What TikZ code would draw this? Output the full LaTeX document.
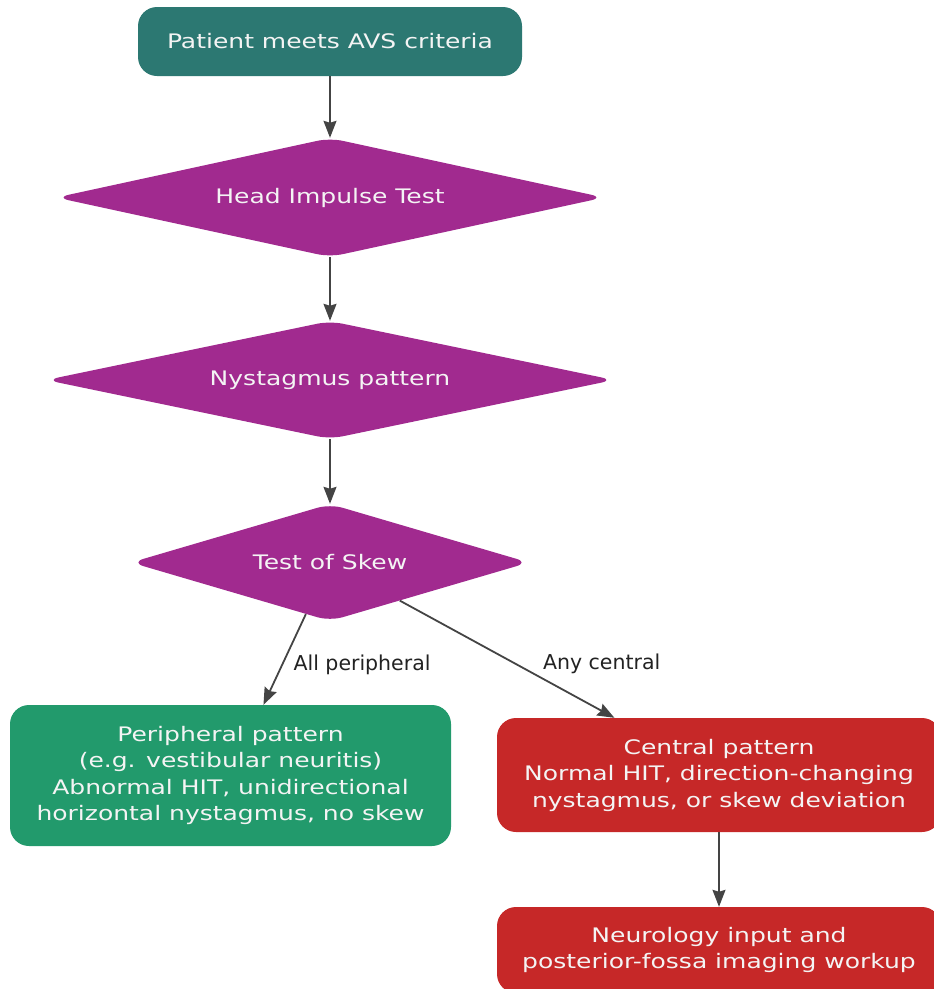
\documentclass[tikz,border=0pt]{standalone}
\usepackage{fontspec}
\setmainfont{DejaVu Sans}
\newfontfamily\boxfont[FakeStretch=1.25]{DejaVu Sans}
\usetikzlibrary{shapes.geometric,arrows.meta}

\definecolor{startteal}{HTML}{2C7872}
\definecolor{decpurple}{HTML}{A12A8F}
\definecolor{periphgreen}{HTML}{229A6C}
\definecolor{centralred}{HTML}{C62828}
\definecolor{edgegray}{HTML}{444444}
\definecolor{labelink}{HTML}{222222}
\definecolor{boxink}{HTML}{F4F4F4}

\tikzset{
  boxtext/.style={text=boxink, font=\boxfont\fontsize{20}{26.5}\selectfont, align=center},
  roundbox/.style={rectangle, rounded corners=19pt, draw=none, inner sep=0pt, boxtext},
  decision/.style={diamond, rounded corners=13pt, fill=decpurple, draw=none, inner sep=0pt, boxtext},
  flow/.style={draw=edgegray, line width=1.8pt, -{Stealth[length=17pt,width=13pt,inset=2pt]}},
  edgelabel/.style={text=labelink, font=\fontsize{20.5}{23}\selectfont, inner sep=0pt, anchor=west, yshift=-5pt}
}

\begin{document}
\begin{tikzpicture}[x=1pt,y=-1pt]
  \useasboundingbox (0,0) rectangle (934,989);

  % start box
  \node[roundbox, fill=startteal, minimum width=384pt, minimum height=69pt] (start) at (330,41.5)
    {Patient meets AVS criteria};

  % decision diamonds
  \node[decision, aspect=4.62, minimum width=548pt, minimum height=119pt] (hit) at (330,197.5) {Head Impulse Test};
  \node[decision, aspect=4.83, minimum width=568pt, minimum height=118pt] (nys) at (330,380) {Nystagmus pattern};
  \node[decision, aspect=3.39, minimum width=398pt, minimum height=117pt] (skew) at (330,562.5) {Test of Skew};

  % outcome boxes
  \node[roundbox, fill=periphgreen, minimum width=441pt, minimum height=141pt] (periph) at (230.5,775.5)
    {Peripheral pattern\\(e.g. vestibular neuritis)\\Abnormal HIT, unidirectional\\horizontal nystagmus, no skew};
  \node[roundbox, fill=centralred, minimum width=444pt, minimum height=114pt] (central) at (719,775)
    {Central pattern\\Normal HIT, direction-changing\\nystagmus, or skew deviation};
  \node[roundbox, fill=centralred, minimum width=444pt, minimum height=86pt] (neuro) at (719,950)
    {Neurology input and\\posterior-fossa imaging workup};

  % connectors
  \draw[flow] (start) -- (hit);
  \draw[flow] (hit) -- (nys);
  \draw[flow] (nys) -- (skew);
  \draw[flow] (skew) -- node[edgelabel, pos=0.5, xshift=8pt] (lblp) {All peripheral} (periph);
  \draw[flow] (skew) -- node[edgelabel, pos=0.5, xshift=35pt] (lblc) {Any central} (central);
  \draw[flow] (central) -- (neuro);
\end{tikzpicture}
\end{document}
